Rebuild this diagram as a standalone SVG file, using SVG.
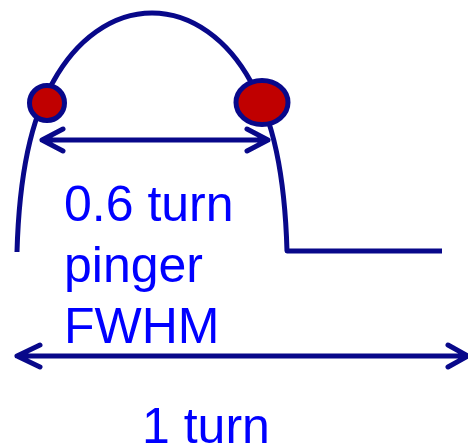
<svg xmlns="http://www.w3.org/2000/svg" width="468" height="448" viewBox="0 0 468 448">
<style>
.ln{fill:none;stroke:#08088A;stroke-width:5;stroke-linecap:round;stroke-linejoin:round}
.dot{fill:#C00000;stroke:#08088A;stroke-width:5}
.t{font-family:"Liberation Sans",Arial,sans-serif;font-size:50px;fill:#0000FF}
</style>
<rect width="468" height="448" fill="#FFFFFF"/>
<g id="connectors">
<path class="ln" style="stroke-linecap:butt" d="M17,252 C19,180 30,120 53,82 C76,40 112,13 152,13 C192,13 228,40 251,82 C274,120 285,180 287,251 H442"/>
<path id="arrow-fwhm" class="ln" d="M42,140 H268 M63,129 L42,140 L63,151 M247,129 L268,140 L247,151"/>
<path id="arrow-turn" class="ln" d="M17,356 H470 M40,345 L17,356 L40,367 M448,345 L468,356 L448,367"/>
</g>
<g id="pinger-left"><circle class="dot" cx="47" cy="103" r="17.5"/></g>
<g id="pinger-right"><ellipse class="dot" cx="262" cy="102.5" rx="26" ry="22"/></g>
<g id="label-fwhm">
<text class="t" x="64" y="221">0.6 turn</text>
<text class="t" x="64" y="282">pinger</text>
<text class="t" x="64" y="343">FWHM</text>
</g>
<g id="label-turn"><text class="t" x="142" y="443">1 turn</text></g>
</svg>
